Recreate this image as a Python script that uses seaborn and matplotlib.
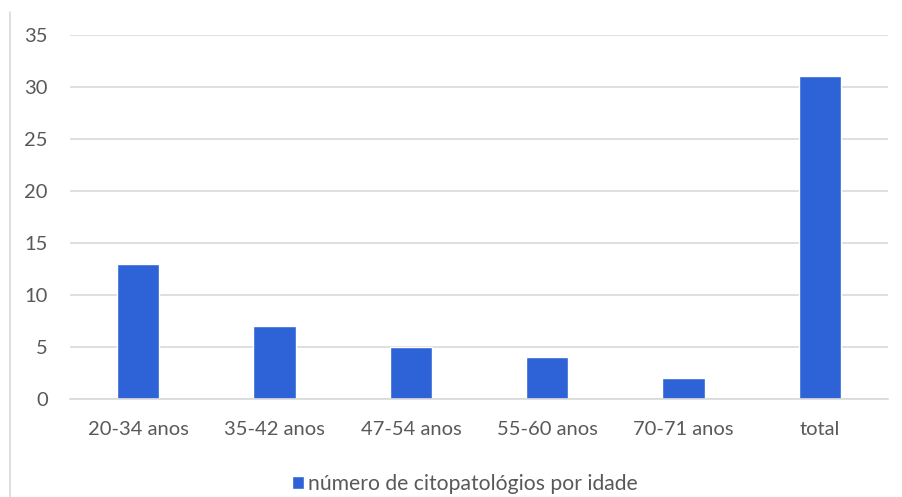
import matplotlib
matplotlib.use("Agg")
import matplotlib.pyplot as plt
from matplotlib.lines import Line2D
import seaborn as sns
import pandas as pd

categories = ["20-34 anos", "35-42 anos", "47-54 anos", "55-60 anos", "70-71 anos", "total"]
values = [13, 7, 5, 4, 2, 31]
series_name = "número de citopatológios por idade"
y_ticks = [0, 5, 10, 15, 20, 25, 30, 35]

sns.set_theme(style="white")
plt.rcParams["font.family"] = ["Lato", "DejaVu Sans"]

df = pd.DataFrame({"faixa": categories, "n": values, "serie": series_name})

fig = plt.figure(figsize=(9.02, 4.97), dpi=100)
ax = fig.add_axes([0.0776, 0.197, 0.907, 0.733])

bar_color = "#2E63D8"
sns.barplot(data=df, x="faixa", y="n", hue="serie", palette=[bar_color],
            width=0.31, ax=ax, saturation=1, legend=True)

ax.set_ylim(0, 35)
ax.set_yticks(y_ticks)
ax.set_xlim(-0.5, len(categories) - 0.5)
ax.yaxis.grid(True, color="#d9d9d9", linewidth=1.2)
ax.set_axisbelow(True)
for side in ["top", "right", "left"]:
    ax.spines[side].set_visible(False)
ax.spines["bottom"].set_color("#d9d9d9")
ax.spines["bottom"].set_linewidth(1.2)
ax.set_xlabel("")
ax.set_ylabel("")
ax.tick_params(axis="both", length=0, colors="#595959", labelsize=14.5)
ax.tick_params(axis="x", pad=16)
ax.tick_params(axis="y", pad=16)

ax.legend(loc="center", bbox_to_anchor=(0.483, -0.233), frameon=False,
          fontsize=15.2, labelcolor="#595959", handlelength=0.55, handleheight=0.55,
          handletextpad=0.2)

# outer chart frame on the left
fig.add_artist(Line2D([10 / 902, 10 / 902], [0, 1 - 12 / 497],
                      transform=fig.transFigure, color="#d9d9d9", linewidth=1.2))

fig.savefig("out.png", dpi=100)
